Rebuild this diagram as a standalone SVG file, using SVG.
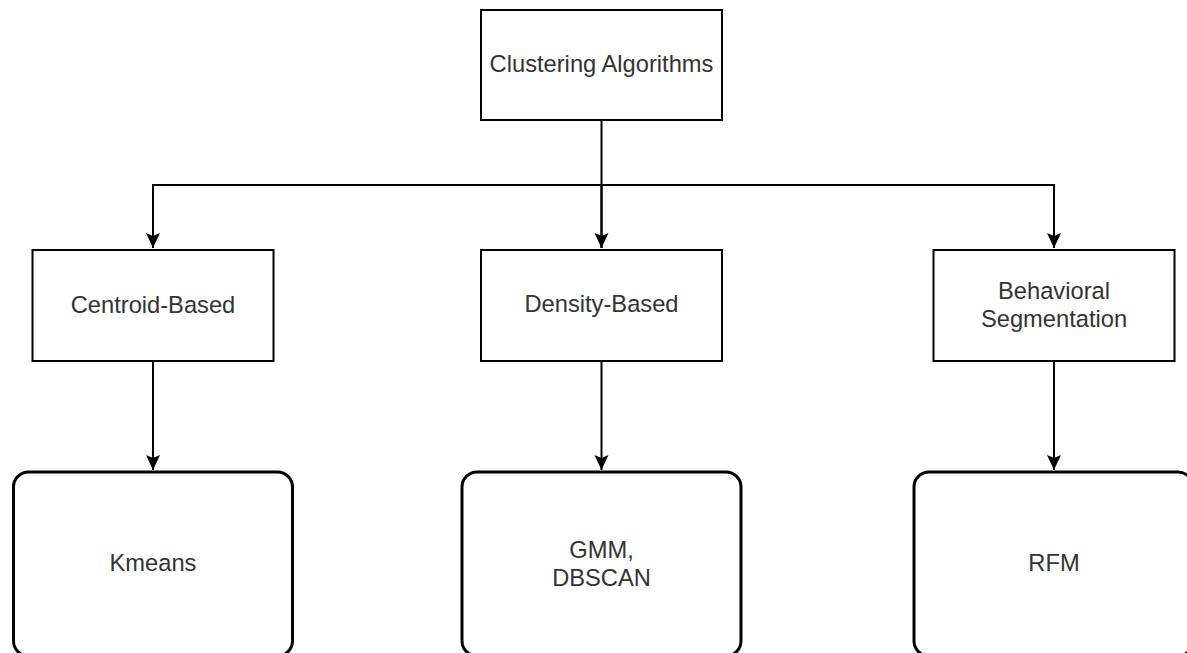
<svg xmlns="http://www.w3.org/2000/svg" width="1187" height="653" viewBox="0 0 1187 653">
  <defs>
    <style>
      .box { fill: #ffffff; stroke: #000000; stroke-width: 2; }
      .rbox { fill: #ffffff; stroke: #000000; stroke-width: 3; }
      .lbl { font-family: "Liberation Sans", Arial, sans-serif; font-size: 23.7px; fill: #333333; text-anchor: middle; }
      .edge { fill: none; stroke: #000000; stroke-width: 2; }
    </style>
    <marker id="arrow" viewBox="0 0 16 16" refX="15" refY="8" markerWidth="16" markerHeight="16" markerUnits="userSpaceOnUse" orient="auto">
      <path d="M 0 1 L 15 8 L 0 15 L 3 8 Z" fill="#000000"/>
    </marker>
  </defs>
  <rect width="1187" height="653" fill="#ffffff"/>

  <!-- connectors -->
  <g id="connectors">
    <path class="edge" d="M 601.5 120 L 601.5 248"/>
    <path class="edge" d="M 601.5 185 L 153 185 L 153 248" marker-end="url(#arrow)"/>
    <path class="edge" d="M 601.5 185 L 601.5 248" marker-end="url(#arrow)"/>
    <path class="edge" d="M 601.5 185 L 1054 185 L 1054 248" marker-end="url(#arrow)"/>
    <path class="edge" d="M 153 361 L 153 470" marker-end="url(#arrow)"/>
    <path class="edge" d="M 601.5 361 L 601.5 470" marker-end="url(#arrow)"/>
    <path class="edge" d="M 1054 361 L 1054 470" marker-end="url(#arrow)"/>
  </g>

  <!-- root -->
  <g id="clustering-algorithms">
    <rect class="box" x="481" y="10" width="241" height="110"/>
    <text class="lbl" x="601.5" y="72">Clustering Algorithms</text>
  </g>

  <!-- categories -->
  <g id="centroid-based">
    <rect class="box" x="32.5" y="250" width="241" height="111"/>
    <text class="lbl" x="153" y="312.5">Centroid-Based</text>
  </g>
  <g id="density-based">
    <rect class="box" x="481" y="250" width="241" height="111"/>
    <text class="lbl" x="601.5" y="312">Density-Based</text>
  </g>
  <g id="behavioral-segmentation">
    <rect class="box" x="933.5" y="250" width="241" height="111"/>
    <text class="lbl" x="1054" y="299">Behavioral</text>
    <text class="lbl" x="1054" y="326.5">Segmentation</text>
  </g>

  <!-- algorithms -->
  <g id="kmeans">
    <rect class="rbox" x="13.5" y="472" width="279" height="184" rx="15" ry="15"/>
    <text class="lbl" x="153" y="571">Kmeans</text>
  </g>
  <g id="gmm-dbscan">
    <rect class="rbox" x="462" y="472" width="279" height="184" rx="15" ry="15"/>
    <text class="lbl" x="601.5" y="558">GMM,</text>
    <text class="lbl" x="601.5" y="585.5">DBSCAN</text>
  </g>
  <g id="rfm">
    <rect class="rbox" x="914" y="472" width="279" height="184" rx="15" ry="15"/>
    <text class="lbl" x="1054" y="571">RFM</text>
  </g>
</svg>
